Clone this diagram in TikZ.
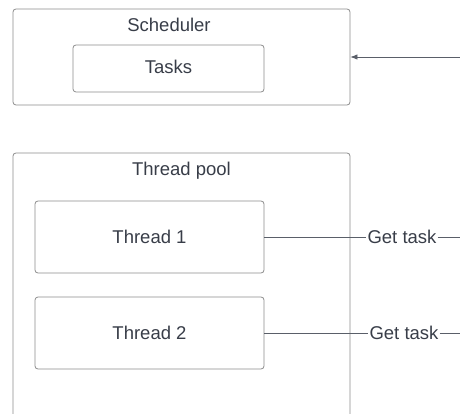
\documentclass[tikz,border=0pt]{standalone}
\usepackage{fontspec}
\setmainfont{Liberation Sans}
\usetikzlibrary{arrows.meta}

\definecolor{boxGray}{HTML}{8C8C8C}
\definecolor{lineGray}{HTML}{5A5F69}
\definecolor{textGray}{HTML}{383D48}

\begin{document}
\begin{tikzpicture}[
    x=1pt, y=-1pt,
    box/.style={draw=boxGray, line width=0.8pt, rounded corners=3pt, inner sep=0pt},
    threadWidth/.style={minimum width=229},
    threadHeight/.style={minimum height=72},
    link/.style={draw=lineGray, line width=0.8pt},
    every node/.style={
        text=textGray,
        font=\fontsize{18.5}{22}\selectfont,
        text centered,
        }
        ]
    \useasboundingbox (0, 0) rectangle (460, 414);
    \clip (0, 0) rectangle (460, 414);

    % scheduler with its task queue
    \node[box, minimum width=337, minimum height=96] (scheduler) at (181.5, 57) {};
    \node (schedulerLabel) at (169, 25) {Scheduler};
    \node[box, minimum width=191, minimum height=47] (tasks) at (168.5, 68.5) {};
    \node (tasksLabel) at (168.5, 66.5) {Tasks};

    % thread pool, runs off the bottom edge
    \node[box, minimum width=337, minimum height=287] (pool) at (181.5, 296.5) {};
    \node (poolLabel) at (181.5, 171) {Thread pool};
    \node[box, threadWidth, threadHeight] (thread1) at (149.5, 237) {Thread 1};
    \node[box, threadWidth, threadHeight] (thread2) at (149.5, 333) {Thread 2};

    \node[inner sep=1pt] (get1) at (402, 237) {Get task};
    \node[inner sep=1pt] (get2) at (404, 333) {Get task};

    \coordinate (submit) at (460, 57);
    \coordinate (out1) at (460, 237);
    \coordinate (out2) at (460, 333);

    \draw[link, -{Latex[length=7pt, width=5.5pt]}] (submit) -- (scheduler.east);
    \draw[link] (thread1.east) -- (get1.west);
    \draw[link] (get1.east) -- (out1);
    \draw[link] (thread2.east) -- (get2.west);
    \draw[link] (get2.east) -- (out2);
\end{tikzpicture}
\end{document}
